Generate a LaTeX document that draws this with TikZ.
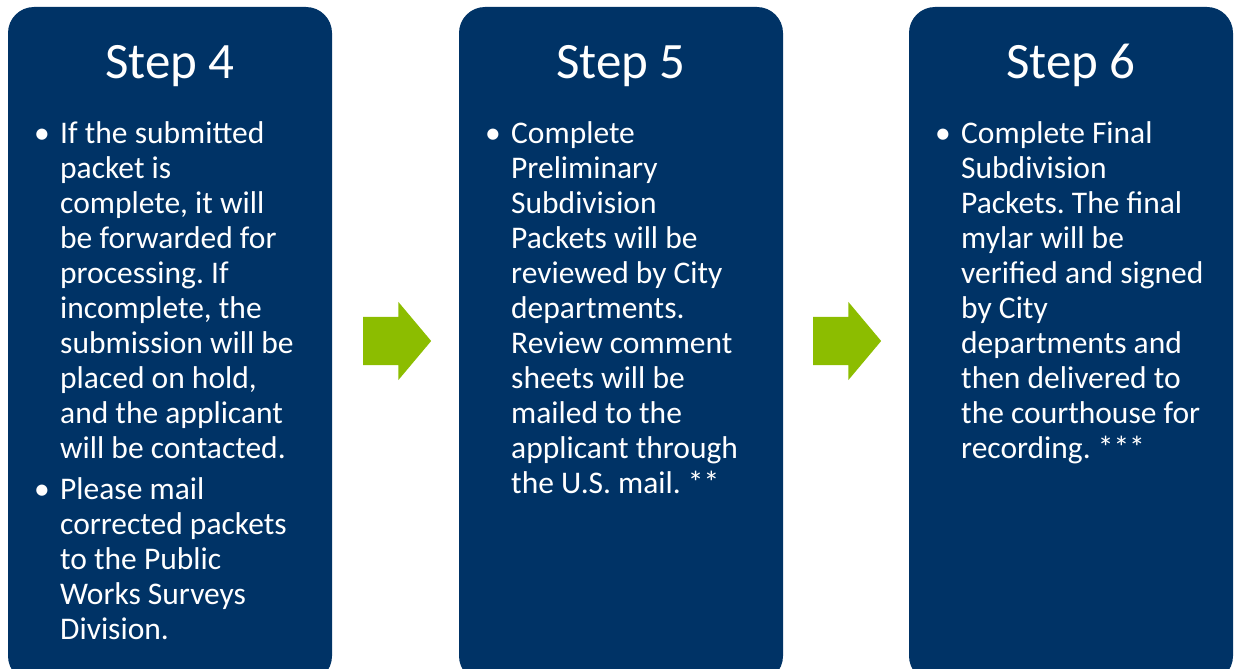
\documentclass[tikz,border=0pt]{standalone}
\usepackage{fontspec}
\setmainfont{Carlito}
\usetikzlibrary{positioning, shapes.arrows}
\definecolor{stepblue}{HTML}{003366}
\definecolor{stepgreen}{HTML}{8CBD00}
\frenchspacing

\begin{document}
\begin{tikzpicture}[
    x=1pt, y=-1pt,
    stepbox/.style={fill=stepblue, rounded corners=26pt, minimum width=324pt, minimum height=675pt, inner sep=0pt},
    title/.style={text=white, anchor=base, font={\fontsize{51}{60}\selectfont}},
    dot/.style={text=white, anchor=base, font={\fontsize{31.5}{35}\selectfont}},
    body/.style={text=white, anchor=base west, align=left, inner sep=0pt, font={\fontsize{31.5}{35}\selectfont}},
    next/.style={single arrow, fill=stepgreen, inner xsep=0pt, inner ysep=24pt, minimum height=68pt,
        single arrow head extend=15pt, single arrow tip angle=100}
]
    \clip (0,0) rectangle (1235,669);

    % the three boxes
    \node[stepbox] (box4) at (170,344.5) {};
    \node[stepbox] (box5) at (621,344.5) {};
    \node[stepbox] (box6) at (1071,344.5) {};

    \node[title] (title4) at (170,78) {Step 4};
    \node[title] (title5) at (621,78) {Step 5};
    \node[title] (title6) at (1071,78) {Step 6};

    % step 4 (base of a text node is its last line)
    \node[dot] (dot4a) at (42,143) {•};
    \node[body] (text4a) at (60,458) {If the submitted\\packet is\\complete, it will\\be forwarded for\\processing. If\\incomplete, the\\submission will be\\placed on hold,\\and the applicant\\will be contacted.};
    \node[dot] (dot4b) at (42,499) {•};
    \node[body] (text4b) at (60,639) {Please mail\\corrected packets\\to the Public\\Works Surveys\\Division.};

    % step 5
    \node[dot] (dot5) at (493,143) {•};
    \node[body] (text5) at (511,493) {Complete\\Preliminary\\Subdivision\\Packets will be\\reviewed by City\\departments.\\Review comment\\sheets will be\\mailed to the\\applicant through\\the U.S. mail. **};

    % step 6
    \node[dot] (dot6) at (943,143) {•};
    \node[body] (text6) at (961,458) {Complete Final\\Subdivision\\Packets. The final\\mylar will be\\verified and signed\\by City\\departments and\\then delivered to\\the courthouse for\\recording. ***};

    % arrows between the boxes
    \node[next] (arrow45) at (387,341) {};
    \node[next] (arrow56) at (837,341) {};
\end{tikzpicture}
\end{document}
